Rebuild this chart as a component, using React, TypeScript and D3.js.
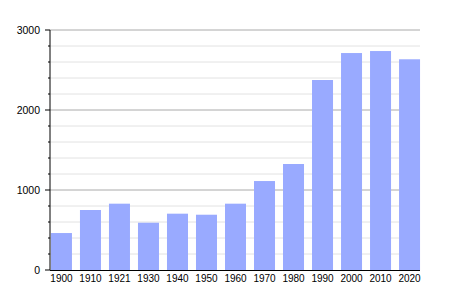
import React from "react";
import * as d3 from "d3";

const years = ["1900","1910","1921","1930","1940","1950","1960","1970","1980","1990","2000","2010","2020"];
const population = [462, 750, 829, 591, 704, 691, 829, 1112, 1325, 2375, 2712, 2737, 2634];
const majorTicks = [0, 1000, 2000, 3000];
const minorTicks = d3.range(0, 3001, 200);

export default function App() {
  const W = 450, H = 300;
  const left = 50, right = 421, top = 30, bottom = 270;
  const x = d3.scaleBand<string>().domain(years).range([left, right]).paddingInner(0.276).paddingOuter(0.033);
  const y = d3.scaleLinear().domain([0, 3000]).range([bottom, top]);
  const font = "Liberation Sans, Arial, sans-serif";
  return (
    <svg width={W} height={H} style={{ position: "absolute", left: 0, top: 0 }}>
      <rect width={W} height={H} fill="#fff" />
      {minorTicks.filter(t => t % 1000 !== 0).map(t => (
        <g key={"m" + t}>
          <line x1={left} x2={right - 1} y1={y(t)} y2={y(t)} stroke="#e2e2e2" strokeWidth={1} />
          <line x1={left - 2} x2={left} y1={y(t)} y2={y(t)} stroke="#000" strokeWidth={1} />
        </g>
      ))}
      {majorTicks.filter(t => t > 0).map(t => (
        <line key={"g" + t} x1={left} x2={right - 1} y1={y(t)} y2={y(t)} stroke="#aaaaaa" strokeWidth={1} />
      ))}
      {years.map((yr, i) => (
        <rect key={yr} x={x(yr)!} y={y(population[i])} width={x.bandwidth()} height={bottom - y(population[i])} fill="#99aaff" />
      ))}
      <line x1={left} x2={left} y1={top} y2={bottom} stroke="#000" strokeWidth={1} />
      <line x1={left} x2={right - 1} y1={bottom + 0.5} y2={bottom + 0.5} stroke="#000" strokeWidth={1} />
      {majorTicks.map(t => (
        <g key={"t" + t}>
          <line x1={left - 5} x2={left} y1={y(t)} y2={y(t)} stroke="#000" strokeWidth={1} />
          <text x={40} y={y(t)} dy="0.35em" textAnchor="end" fontSize={10.5} fontFamily={font} fill="#000">{t}</text>
        </g>
      ))}
      {years.map(yr => (
        <text key={"l" + yr} x={x(yr)! + x.bandwidth() / 2} y={278.5} dy="0.35em" textAnchor="middle" fontSize={10} fontFamily={font} fill="#000">{yr}</text>
      ))}
    </svg>
  );
}
